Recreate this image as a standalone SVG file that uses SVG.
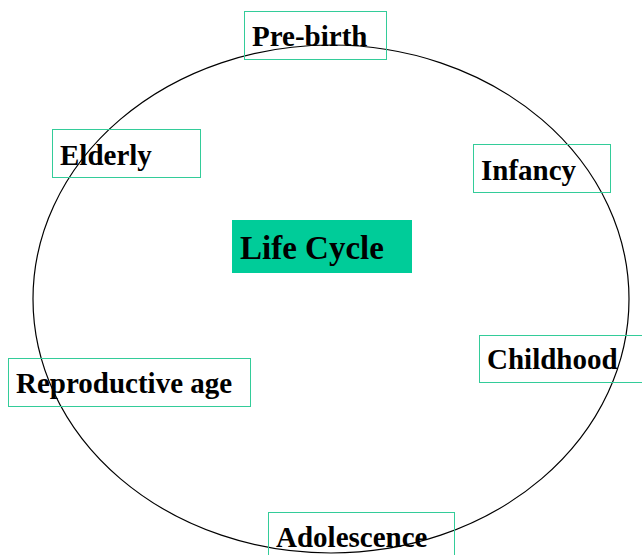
<svg xmlns="http://www.w3.org/2000/svg" width="642" height="555" viewBox="0 0 642 555">
<style>
.box{fill:none;stroke:#33cc99;stroke-width:1}
.lbl{font-family:"Liberation Serif","Times New Roman",serif;font-weight:bold;font-size:29px;fill:#000}
.title{font-family:"Liberation Serif","Times New Roman",serif;font-weight:bold;font-size:33px;fill:#000}
</style>
<rect width="642" height="555" fill="#fff"/>
<g id="connectors">
<ellipse cx="331" cy="299" rx="298" ry="254" fill="none" stroke="#000" stroke-width="1.2"/>
</g>
<g id="pre-birth"><rect class="box" x="244.5" y="11.5" width="142" height="48"/><text class="lbl" x="252" y="46">Pre-birth</text></g>
<g id="elderly"><rect class="box" x="52.5" y="129.5" width="148" height="48"/><text class="lbl" x="60" y="165">Elderly</text></g>
<g id="infancy"><rect class="box" x="473.5" y="144.5" width="137" height="48"/><text class="lbl" x="481" y="180">Infancy</text></g>
<g id="life-cycle"><rect x="232" y="220" width="180" height="53" fill="#00cc99"/><text class="title" x="240" y="259">Life Cycle</text></g>
<g id="childhood"><rect class="box" x="479.5" y="335.5" width="170" height="47"/><text class="lbl" x="487" y="369">Childhood</text></g>
<g id="reproductive-age"><rect class="box" x="8.5" y="358.5" width="242" height="48"/><text class="lbl" x="16" y="393">Reproductive age</text></g>
<g id="adolescence"><rect class="box" x="268.5" y="512.5" width="186" height="48"/><text class="lbl" x="276" y="547">Adolescence</text></g>
</svg>
